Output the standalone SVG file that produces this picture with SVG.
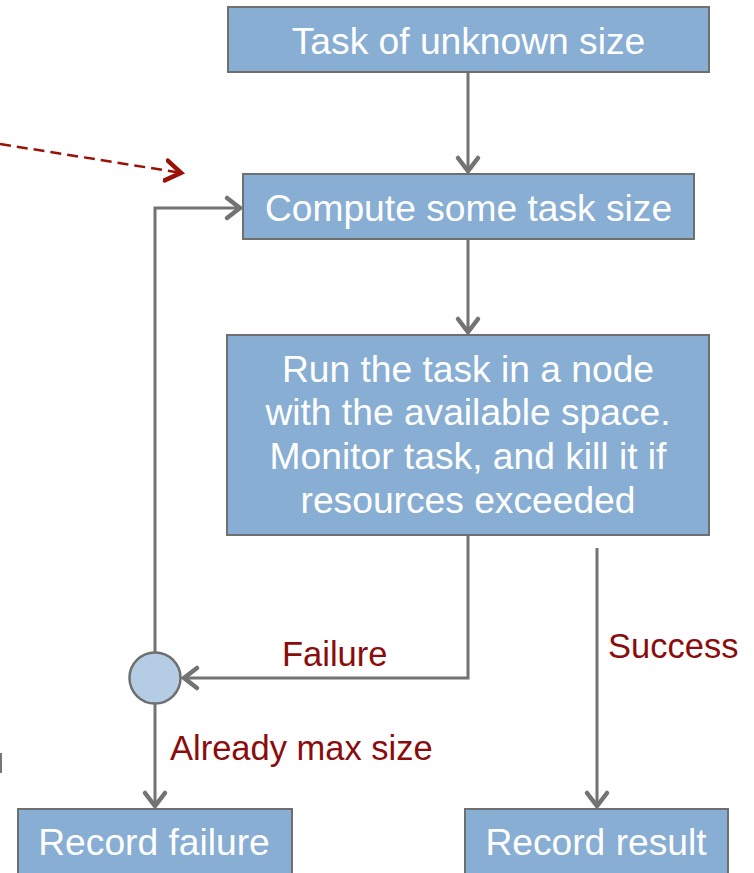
<svg xmlns="http://www.w3.org/2000/svg" width="754" height="873" viewBox="0 0 754 873">
<style>
.box{fill:#88AED4;stroke:#6f6f6f;stroke-width:2}
.bt{font-family:"Liberation Sans",Arial,sans-serif;font-size:37.2px;fill:#ffffff;text-anchor:middle}
.lbl{font-family:"Liberation Sans",Arial,sans-serif;font-size:34.5px;fill:#8a0c0c}
.con{fill:none;stroke:#737373;stroke-width:3}
</style>
<defs>
<marker id="ah" markerUnits="userSpaceOnUse" viewBox="-18 -14 22 28" refX="0" refY="0" markerWidth="22" markerHeight="28" orient="auto">
<path d="M-14,-10 L-1,0 L-14,10" fill="none" stroke="#737373" stroke-width="4.5" stroke-linecap="round"/>
</marker>
<marker id="ahr" markerUnits="userSpaceOnUse" viewBox="-18 -14 22 28" refX="0" refY="0" markerWidth="22" markerHeight="28" orient="auto">
<path d="M-16,-10 L-1,0 L-16,10" fill="none" stroke="#9a1206" stroke-width="4.5" stroke-linecap="round"/>
</marker>
</defs>
<rect width="754" height="873" fill="#ffffff"/>
<g id="connectors">
<path class="con" d="M468,72 L468,172" marker-end="url(#ah)"/>
<path class="con" d="M468,239 L468,333" marker-end="url(#ah)"/>
<path class="con" d="M468,535 L468,678 L183,678" marker-end="url(#ah)"/>
<path class="con" d="M155,652 L155,208 L241,208" marker-end="url(#ah)"/>
<path class="con" d="M155,704 L155,807" marker-end="url(#ah)"/>
<path class="con" d="M597,548 L597,807" marker-end="url(#ah)"/>
<path d="M0,144 L182,173" fill="none" stroke="#9a1206" stroke-width="2.5" stroke-dasharray="11,6" marker-end="url(#ahr)"/>
<text class="lbl" x="282" y="666">Failure</text>
<text class="lbl" x="608" y="658">Success</text>
<text class="lbl" x="170" y="760">Already max size</text>
</g>
<g id="task-unknown">
<rect class="box" x="228" y="7" width="481" height="65"/>
<text class="bt" x="468.5" y="54">Task of unknown size</text>
</g>
<g id="compute-size">
<rect class="box" x="243" y="174" width="451" height="65"/>
<text class="bt" x="468.5" y="221">Compute some task size</text>
</g>
<g id="run-task">
<rect class="box" x="227" y="335" width="482" height="200"/>
<text class="bt" x="468" y="382">Run the task in a node</text>
<text class="bt" x="468" y="425">with the available space.</text>
<text class="bt" x="468" y="469">Monitor task, and kill it if</text>
<text class="bt" x="468" y="513">resources exceeded</text>
</g>
<g id="decision">
<circle cx="155" cy="678" r="25.5" fill="#B4CCE4" stroke="#6f6f6f" stroke-width="2.5"/>
</g>
<g id="record-failure">
<rect class="box" x="18" y="809" width="274" height="80"/>
<text class="bt" x="154" y="855">Record failure</text>
</g>
<g id="record-result">
<rect class="box" x="465" y="809" width="263" height="80"/>
<text class="bt" x="596" y="855">Record result</text>
</g>
<rect x="0" y="753" width="2" height="20" fill="#777777"/>
</svg>
